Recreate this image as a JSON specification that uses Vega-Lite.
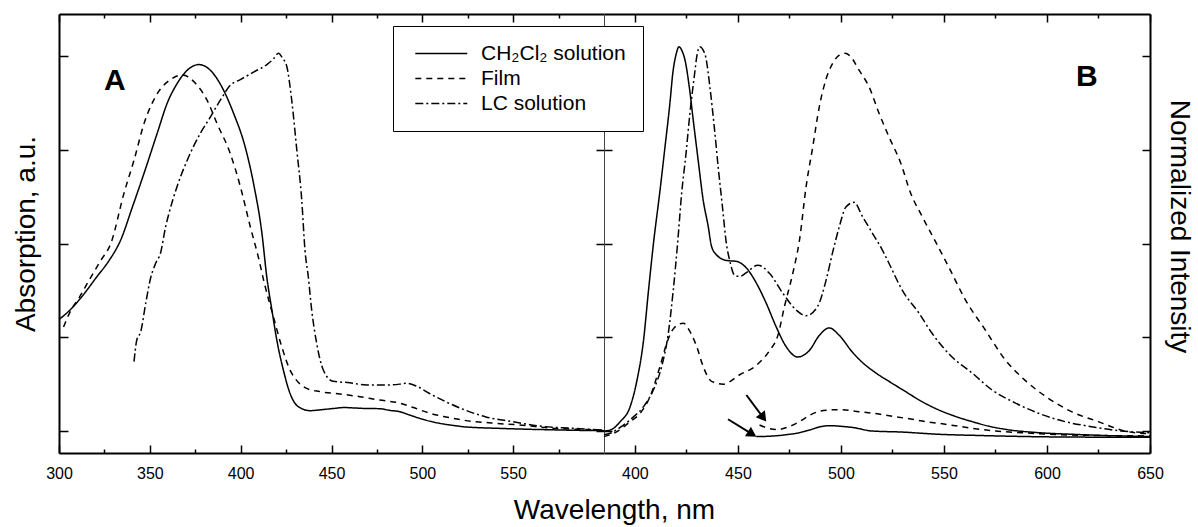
{
  "$schema": "https://vega.github.io/schema/vega-lite/v6.json",
  "padding": {"left": 12, "top": 13, "right": 8, "bottom": 0},
  "config": {
    "font": "Liberation Sans",
    "view": {"stroke": null},
    "axis": {"grid": false, "domainColor": "black", "domainWidth": 2, "tickColor": "black", "tickWidth": 1.5, "labelFont": "Liberation Sans", "labelFontSize": 16, "labelColor": "black", "labelFlush": false, "labelOverlap": false, "titleFont": "Liberation Sans", "titleFontSize": 28, "titleFontWeight": "normal", "titleColor": "black"}
  },
  "title": {"text": "Wavelength, nm", "orient": "bottom", "anchor": "middle", "fontSize": 28, "fontWeight": "normal", "font": "Liberation Sans", "color": "black", "offset": 12, "dx": 12},
  "datasets": {
    "absorb": [
      {"s":"CH₂Cl₂ solution","c":"a1","wl":300,"v":1.19},{"s":"CH₂Cl₂ solution","c":"a1","wl":306,"v":1.29},{"s":"CH₂Cl₂ solution","c":"a1","wl":312,"v":1.42},{"s":"CH₂Cl₂ solution","c":"a1","wl":321,"v":1.65},{"s":"CH₂Cl₂ solution","c":"a1","wl":327.6,"v":1.82},{"s":"CH₂Cl₂ solution","c":"a1","wl":334,"v":2.04},{"s":"CH₂Cl₂ solution","c":"a1","wl":340.4,"v":2.39},{"s":"CH₂Cl₂ solution","c":"a1","wl":346.8,"v":2.75},{"s":"CH₂Cl₂ solution","c":"a1","wl":354.1,"v":3.18},{"s":"CH₂Cl₂ solution","c":"a1","wl":359.6,"v":3.5},{"s":"CH₂Cl₂ solution","c":"a1","wl":365.1,"v":3.71},{"s":"CH₂Cl₂ solution","c":"a1","wl":370.6,"v":3.85},{"s":"CH₂Cl₂ solution","c":"a1","wl":376.9,"v":3.91},{"s":"CH₂Cl₂ solution","c":"a1","wl":383.3,"v":3.85},{"s":"CH₂Cl₂ solution","c":"a1","wl":389.7,"v":3.67},{"s":"CH₂Cl₂ solution","c":"a1","wl":396.1,"v":3.39},{"s":"CH₂Cl₂ solution","c":"a1","wl":402.5,"v":3.03},{"s":"CH₂Cl₂ solution","c":"a1","wl":407.1,"v":2.64},{"s":"CH₂Cl₂ solution","c":"a1","wl":411.7,"v":2.11},{"s":"CH₂Cl₂ solution","c":"a1","wl":414.4,"v":1.64},{"s":"CH₂Cl₂ solution","c":"a1","wl":417.2,"v":1.29},{"s":"CH₂Cl₂ solution","c":"a1","wl":419.9,"v":0.97},{"s":"CH₂Cl₂ solution","c":"a1","wl":423.5,"v":0.65},{"s":"CH₂Cl₂ solution","c":"a1","wl":427.2,"v":0.4},{"s":"CH₂Cl₂ solution","c":"a1","wl":431.7,"v":0.26},{"s":"CH₂Cl₂ solution","c":"a1","wl":438.2,"v":0.217},{"s":"CH₂Cl₂ solution","c":"a1","wl":445,"v":0.228},{"s":"CH₂Cl₂ solution","c":"a1","wl":451,"v":0.24},{"s":"CH₂Cl₂ solution","c":"a1","wl":457,"v":0.25},{"s":"CH₂Cl₂ solution","c":"a1","wl":463,"v":0.245},{"s":"CH₂Cl₂ solution","c":"a1","wl":469.2,"v":0.24},{"s":"CH₂Cl₂ solution","c":"a1","wl":476.5,"v":0.238},{"s":"CH₂Cl₂ solution","c":"a1","wl":482,"v":0.22},{"s":"CH₂Cl₂ solution","c":"a1","wl":487.5,"v":0.206},{"s":"CH₂Cl₂ solution","c":"a1","wl":493,"v":0.17},{"s":"CH₂Cl₂ solution","c":"a1","wl":498.5,"v":0.135},{"s":"CH₂Cl₂ solution","c":"a1","wl":504,"v":0.105},{"s":"CH₂Cl₂ solution","c":"a1","wl":509.4,"v":0.082},{"s":"CH₂Cl₂ solution","c":"a1","wl":516,"v":0.062},{"s":"CH₂Cl₂ solution","c":"a1","wl":522.2,"v":0.046},{"s":"CH₂Cl₂ solution","c":"a1","wl":530,"v":0.036},{"s":"CH₂Cl₂ solution","c":"a1","wl":540.5,"v":0.029},{"s":"CH₂Cl₂ solution","c":"a1","wl":550,"v":0.023},{"s":"CH₂Cl₂ solution","c":"a1","wl":558.8,"v":0.018},{"s":"CH₂Cl₂ solution","c":"a1","wl":568,"v":0.014},{"s":"CH₂Cl₂ solution","c":"a1","wl":577,"v":0.01},{"s":"CH₂Cl₂ solution","c":"a1","wl":588,"v":0.006},{"s":"CH₂Cl₂ solution","c":"a1","wl":600,"v":0.003},
      {"s":"Film","c":"a2","wl":302.5,"v":1.11},{"s":"Film","c":"a2","wl":306.6,"v":1.29},{"s":"Film","c":"a2","wl":311,"v":1.42},{"s":"Film","c":"a2","wl":316.6,"v":1.61},{"s":"Film","c":"a2","wl":323,"v":1.82},{"s":"Film","c":"a2","wl":328.5,"v":2.0},{"s":"Film","c":"a2","wl":335.8,"v":2.54},{"s":"Film","c":"a2","wl":341.3,"v":2.89},{"s":"Film","c":"a2","wl":346.8,"v":3.28},{"s":"Film","c":"a2","wl":354.1,"v":3.6},{"s":"Film","c":"a2","wl":361.4,"v":3.75},{"s":"Film","c":"a2","wl":367.8,"v":3.8},{"s":"Film","c":"a2","wl":375.1,"v":3.71},{"s":"Film","c":"a2","wl":381.5,"v":3.53},{"s":"Film","c":"a2","wl":387,"v":3.28},{"s":"Film","c":"a2","wl":394.3,"v":2.96},{"s":"Film","c":"a2","wl":399.8,"v":2.61},{"s":"Film","c":"a2","wl":405.3,"v":2.18},{"s":"Film","c":"a2","wl":409.8,"v":1.85},{"s":"Film","c":"a2","wl":413,"v":1.58},{"s":"Film","c":"a2","wl":418,"v":1.22},{"s":"Film","c":"a2","wl":422.6,"v":0.9},{"s":"Film","c":"a2","wl":427.2,"v":0.65},{"s":"Film","c":"a2","wl":430.8,"v":0.54},{"s":"Film","c":"a2","wl":436.3,"v":0.455},{"s":"Film","c":"a2","wl":443.6,"v":0.42},{"s":"Film","c":"a2","wl":454.6,"v":0.395},{"s":"Film","c":"a2","wl":465.6,"v":0.366},{"s":"Film","c":"a2","wl":476.5,"v":0.33},{"s":"Film","c":"a2","wl":487,"v":0.3},{"s":"Film","c":"a2","wl":495,"v":0.25},{"s":"Film","c":"a2","wl":504,"v":0.19},{"s":"Film","c":"a2","wl":513,"v":0.15},{"s":"Film","c":"a2","wl":522,"v":0.117},{"s":"Film","c":"a2","wl":538,"v":0.085},{"s":"Film","c":"a2","wl":555,"v":0.062},{"s":"Film","c":"a2","wl":571,"v":0.03},{"s":"Film","c":"a2","wl":585,"v":0.018},{"s":"Film","c":"a2","wl":599,"v":0.01},
      {"s":"LC solution","c":"a3","wl":341.3,"v":0.74},{"s":"LC solution","c":"a3","wl":342.8,"v":0.97},{"s":"LC solution","c":"a3","wl":345,"v":1.06},{"s":"LC solution","c":"a3","wl":347.7,"v":1.36},{"s":"LC solution","c":"a3","wl":350.4,"v":1.63},{"s":"LC solution","c":"a3","wl":353.2,"v":1.79},{"s":"LC solution","c":"a3","wl":355.9,"v":1.9},{"s":"LC solution","c":"a3","wl":358.7,"v":2.18},{"s":"LC solution","c":"a3","wl":360.5,"v":2.32},{"s":"LC solution","c":"a3","wl":365,"v":2.61},{"s":"LC solution","c":"a3","wl":370.6,"v":2.89},{"s":"LC solution","c":"a3","wl":377.9,"v":3.18},{"s":"LC solution","c":"a3","wl":383.3,"v":3.35},{"s":"LC solution","c":"a3","wl":388.8,"v":3.53},{"s":"LC solution","c":"a3","wl":394.3,"v":3.69},{"s":"LC solution","c":"a3","wl":399.8,"v":3.75},{"s":"LC solution","c":"a3","wl":407.1,"v":3.83},{"s":"LC solution","c":"a3","wl":414.4,"v":3.91},{"s":"LC solution","c":"a3","wl":418,"v":3.97},{"s":"LC solution","c":"a3","wl":420.8,"v":4.03},{"s":"LC solution","c":"a3","wl":423,"v":3.98},{"s":"LC solution","c":"a3","wl":425.4,"v":3.89},{"s":"LC solution","c":"a3","wl":428.1,"v":3.53},{"s":"LC solution","c":"a3","wl":430.9,"v":3.0},{"s":"LC solution","c":"a3","wl":433.6,"v":2.47},{"s":"LC solution","c":"a3","wl":435.4,"v":1.93},{"s":"LC solution","c":"a3","wl":437.2,"v":1.65},{"s":"LC solution","c":"a3","wl":439.1,"v":1.29},{"s":"LC solution","c":"a3","wl":441.8,"v":0.94},{"s":"LC solution","c":"a3","wl":445.5,"v":0.65},{"s":"LC solution","c":"a3","wl":450.9,"v":0.53},{"s":"LC solution","c":"a3","wl":460,"v":0.515},{"s":"LC solution","c":"a3","wl":469.2,"v":0.49},{"s":"LC solution","c":"a3","wl":480.2,"v":0.49},{"s":"LC solution","c":"a3","wl":487.5,"v":0.5},{"s":"LC solution","c":"a3","wl":491.2,"v":0.51},{"s":"LC solution","c":"a3","wl":496.7,"v":0.48},{"s":"LC solution","c":"a3","wl":504,"v":0.4},{"s":"LC solution","c":"a3","wl":513.1,"v":0.31},{"s":"LC solution","c":"a3","wl":524,"v":0.22},{"s":"LC solution","c":"a3","wl":535,"v":0.15},{"s":"LC solution","c":"a3","wl":549.6,"v":0.1},{"s":"LC solution","c":"a3","wl":564.2,"v":0.053},{"s":"LC solution","c":"a3","wl":582.5,"v":0.029},{"s":"LC solution","c":"a3","wl":599,"v":0.01}
    ],
    "emit": [
      {"s":"CH₂Cl₂ solution","c":"b1","wl":385,"v":0.0},{"s":"CH₂Cl₂ solution","c":"b1","wl":388,"v":0.01},{"s":"CH₂Cl₂ solution","c":"b1","wl":392.9,"v":0.1},{"s":"CH₂Cl₂ solution","c":"b1","wl":397.7,"v":0.26},{"s":"CH₂Cl₂ solution","c":"b1","wl":401,"v":0.54},{"s":"CH₂Cl₂ solution","c":"b1","wl":404.2,"v":0.97},{"s":"CH₂Cl₂ solution","c":"b1","wl":406.6,"v":1.5},{"s":"CH₂Cl₂ solution","c":"b1","wl":409,"v":2.0},{"s":"CH₂Cl₂ solution","c":"b1","wl":412.2,"v":2.57},{"s":"CH₂Cl₂ solution","c":"b1","wl":414.6,"v":3.03},{"s":"CH₂Cl₂ solution","c":"b1","wl":417,"v":3.5},{"s":"CH₂Cl₂ solution","c":"b1","wl":418.4,"v":3.82},{"s":"CH₂Cl₂ solution","c":"b1","wl":420,"v":4.02},{"s":"CH₂Cl₂ solution","c":"b1","wl":421.4,"v":4.1},{"s":"CH₂Cl₂ solution","c":"b1","wl":423,"v":4.05},{"s":"CH₂Cl₂ solution","c":"b1","wl":424.3,"v":3.96},{"s":"CH₂Cl₂ solution","c":"b1","wl":426.4,"v":3.67},{"s":"CH₂Cl₂ solution","c":"b1","wl":428.3,"v":3.32},{"s":"CH₂Cl₂ solution","c":"b1","wl":430.7,"v":2.89},{"s":"CH₂Cl₂ solution","c":"b1","wl":433.1,"v":2.47},{"s":"CH₂Cl₂ solution","c":"b1","wl":435.6,"v":2.18},{"s":"CH₂Cl₂ solution","c":"b1","wl":437.2,"v":1.97},{"s":"CH₂Cl₂ solution","c":"b1","wl":439.6,"v":1.88},{"s":"CH₂Cl₂ solution","c":"b1","wl":444.4,"v":1.82},{"s":"CH₂Cl₂ solution","c":"b1","wl":449.3,"v":1.81},{"s":"CH₂Cl₂ solution","c":"b1","wl":454.1,"v":1.74},{"s":"CH₂Cl₂ solution","c":"b1","wl":458.9,"v":1.58},{"s":"CH₂Cl₂ solution","c":"b1","wl":463.8,"v":1.36},{"s":"CH₂Cl₂ solution","c":"b1","wl":468.6,"v":1.11},{"s":"CH₂Cl₂ solution","c":"b1","wl":473.4,"v":0.9},{"s":"CH₂Cl₂ solution","c":"b1","wl":479,"v":0.79},{"s":"CH₂Cl₂ solution","c":"b1","wl":484.7,"v":0.86},{"s":"CH₂Cl₂ solution","c":"b1","wl":489.5,"v":1.02},{"s":"CH₂Cl₂ solution","c":"b1","wl":494.3,"v":1.1},{"s":"CH₂Cl₂ solution","c":"b1","wl":499.2,"v":1.02},{"s":"CH₂Cl₂ solution","c":"b1","wl":505.6,"v":0.84},{"s":"CH₂Cl₂ solution","c":"b1","wl":510,"v":0.74},{"s":"CH₂Cl₂ solution","c":"b1","wl":516.9,"v":0.62},{"s":"CH₂Cl₂ solution","c":"b1","wl":524,"v":0.52},{"s":"CH₂Cl₂ solution","c":"b1","wl":531.4,"v":0.42},{"s":"CH₂Cl₂ solution","c":"b1","wl":538,"v":0.33},{"s":"CH₂Cl₂ solution","c":"b1","wl":545.9,"v":0.24},{"s":"CH₂Cl₂ solution","c":"b1","wl":555,"v":0.16},{"s":"CH₂Cl₂ solution","c":"b1","wl":563.6,"v":0.1},{"s":"CH₂Cl₂ solution","c":"b1","wl":572,"v":0.05},{"s":"CH₂Cl₂ solution","c":"b1","wl":579.7,"v":0.018},{"s":"CH₂Cl₂ solution","c":"b1","wl":595.8,"v":-0.018},{"s":"CH₂Cl₂ solution","c":"b1","wl":611.9,"v":-0.035},{"s":"CH₂Cl₂ solution","c":"b1","wl":630,"v":-0.05},{"s":"CH₂Cl₂ solution","c":"b1","wl":650,"v":-0.06},
      {"s":"Film","c":"b2","wl":385,"v":-0.06},{"s":"Film","c":"b2","wl":391.3,"v":-0.007},{"s":"Film","c":"b2","wl":397.7,"v":0.1},{"s":"Film","c":"b2","wl":402.6,"v":0.19},{"s":"Film","c":"b2","wl":407.4,"v":0.37},{"s":"Film","c":"b2","wl":412.2,"v":0.69},{"s":"Film","c":"b2","wl":415.5,"v":0.94},{"s":"Film","c":"b2","wl":419,"v":1.1},{"s":"Film","c":"b2","wl":423.5,"v":1.15},{"s":"Film","c":"b2","wl":427,"v":1.05},{"s":"Film","c":"b2","wl":430,"v":0.9},{"s":"Film","c":"b2","wl":433.1,"v":0.69},{"s":"Film","c":"b2","wl":437.2,"v":0.53},{"s":"Film","c":"b2","wl":442.8,"v":0.5},{"s":"Film","c":"b2","wl":450.9,"v":0.6},{"s":"Film","c":"b2","wl":458.9,"v":0.7},{"s":"Film","c":"b2","wl":465.4,"v":0.86},{"s":"Film","c":"b2","wl":469.4,"v":1.02},{"s":"Film","c":"b2","wl":472.6,"v":1.33},{"s":"Film","c":"b2","wl":476.6,"v":1.68},{"s":"Film","c":"b2","wl":479.9,"v":2.04},{"s":"Film","c":"b2","wl":483.1,"v":2.61},{"s":"Film","c":"b2","wl":486.3,"v":3.03},{"s":"Film","c":"b2","wl":489.5,"v":3.46},{"s":"Film","c":"b2","wl":492.7,"v":3.75},{"s":"Film","c":"b2","wl":495.9,"v":3.92},{"s":"Film","c":"b2","wl":499.2,"v":4.01},{"s":"Film","c":"b2","wl":502,"v":4.03},{"s":"Film","c":"b2","wl":504.5,"v":4.0},{"s":"Film","c":"b2","wl":508.8,"v":3.85},{"s":"Film","c":"b2","wl":513.7,"v":3.67},{"s":"Film","c":"b2","wl":518.5,"v":3.39},{"s":"Film","c":"b2","wl":523.3,"v":3.14},{"s":"Film","c":"b2","wl":529,"v":2.86},{"s":"Film","c":"b2","wl":533.8,"v":2.54},{"s":"Film","c":"b2","wl":539.4,"v":2.29},{"s":"Film","c":"b2","wl":545.9,"v":2.02},{"s":"Film","c":"b2","wl":552.3,"v":1.75},{"s":"Film","c":"b2","wl":560.4,"v":1.4},{"s":"Film","c":"b2","wl":570,"v":1.08},{"s":"Film","c":"b2","wl":579.7,"v":0.76},{"s":"Film","c":"b2","wl":589.4,"v":0.54},{"s":"Film","c":"b2","wl":600.6,"v":0.35},{"s":"Film","c":"b2","wl":611.9,"v":0.206},{"s":"Film","c":"b2","wl":624.9,"v":0.1},{"s":"Film","c":"b2","wl":637.7,"v":0.0},{"s":"Film","c":"b2","wl":650,"v":-0.03},
      {"s":"LC solution","c":"b3","wl":385,"v":-0.04},{"s":"LC solution","c":"b3","wl":388,"v":-0.025},{"s":"LC solution","c":"b3","wl":393,"v":0.04},{"s":"LC solution","c":"b3","wl":399.3,"v":0.15},{"s":"LC solution","c":"b3","wl":404.2,"v":0.26},{"s":"LC solution","c":"b3","wl":409,"v":0.44},{"s":"LC solution","c":"b3","wl":413,"v":0.69},{"s":"LC solution","c":"b3","wl":416.2,"v":1.04},{"s":"LC solution","c":"b3","wl":418.6,"v":1.5},{"s":"LC solution","c":"b3","wl":420.6,"v":1.97},{"s":"LC solution","c":"b3","wl":422.7,"v":2.54},{"s":"LC solution","c":"b3","wl":424.8,"v":2.96},{"s":"LC solution","c":"b3","wl":426.7,"v":3.39},{"s":"LC solution","c":"b3","wl":428.8,"v":3.78},{"s":"LC solution","c":"b3","wl":430.3,"v":4.03},{"s":"LC solution","c":"b3","wl":431.5,"v":4.1},{"s":"LC solution","c":"b3","wl":433,"v":4.07},{"s":"LC solution","c":"b3","wl":434.4,"v":3.99},{"s":"LC solution","c":"b3","wl":436.4,"v":3.67},{"s":"LC solution","c":"b3","wl":438.5,"v":3.25},{"s":"LC solution","c":"b3","wl":440.4,"v":2.82},{"s":"LC solution","c":"b3","wl":442.5,"v":2.39},{"s":"LC solution","c":"b3","wl":444.4,"v":2.0},{"s":"LC solution","c":"b3","wl":446,"v":1.82},{"s":"LC solution","c":"b3","wl":448.5,"v":1.66},{"s":"LC solution","c":"b3","wl":451,"v":1.65},{"s":"LC solution","c":"b3","wl":454.1,"v":1.69},{"s":"LC solution","c":"b3","wl":459.7,"v":1.77},{"s":"LC solution","c":"b3","wl":465.4,"v":1.68},{"s":"LC solution","c":"b3","wl":471.8,"v":1.47},{"s":"LC solution","c":"b3","wl":478.3,"v":1.29},{"s":"LC solution","c":"b3","wl":483.1,"v":1.23},{"s":"LC solution","c":"b3","wl":488.7,"v":1.33},{"s":"LC solution","c":"b3","wl":492.8,"v":1.61},{"s":"LC solution","c":"b3","wl":495.9,"v":1.9},{"s":"LC solution","c":"b3","wl":499.2,"v":2.18},{"s":"LC solution","c":"b3","wl":502.4,"v":2.39},{"s":"LC solution","c":"b3","wl":506.4,"v":2.44},{"s":"LC solution","c":"b3","wl":510.4,"v":2.29},{"s":"LC solution","c":"b3","wl":515.3,"v":2.11},{"s":"LC solution","c":"b3","wl":520.1,"v":1.93},{"s":"LC solution","c":"b3","wl":523.3,"v":1.79},{"s":"LC solution","c":"b3","wl":529.8,"v":1.5},{"s":"LC solution","c":"b3","wl":537.8,"v":1.26},{"s":"LC solution","c":"b3","wl":544.3,"v":1.04},{"s":"LC solution","c":"b3","wl":553.9,"v":0.79},{"s":"LC solution","c":"b3","wl":563.6,"v":0.62},{"s":"LC solution","c":"b3","wl":573.2,"v":0.44},{"s":"LC solution","c":"b3","wl":584.5,"v":0.3},{"s":"LC solution","c":"b3","wl":595.8,"v":0.19},{"s":"LC solution","c":"b3","wl":608.7,"v":0.1},{"s":"LC solution","c":"b3","wl":621.6,"v":0.046},{"s":"LC solution","c":"b3","wl":636,"v":0.0},{"s":"LC solution","c":"b3","wl":650,"v":-0.018},
      {"s":"CH₂Cl₂ solution","c":"b4","wl":458.9,"v":-0.06},{"s":"CH₂Cl₂ solution","c":"b4","wl":466,"v":-0.055},{"s":"CH₂Cl₂ solution","c":"b4","wl":473.4,"v":-0.04},{"s":"CH₂Cl₂ solution","c":"b4","wl":478.3,"v":-0.025},{"s":"CH₂Cl₂ solution","c":"b4","wl":484.7,"v":0.01},{"s":"CH₂Cl₂ solution","c":"b4","wl":490,"v":0.045},{"s":"CH₂Cl₂ solution","c":"b4","wl":495,"v":0.057},{"s":"CH₂Cl₂ solution","c":"b4","wl":500,"v":0.05},{"s":"CH₂Cl₂ solution","c":"b4","wl":505.6,"v":0.038},{"s":"CH₂Cl₂ solution","c":"b4","wl":515,"v":0.0},{"s":"CH₂Cl₂ solution","c":"b4","wl":530,"v":-0.012},{"s":"CH₂Cl₂ solution","c":"b4","wl":547,"v":-0.035},{"s":"CH₂Cl₂ solution","c":"b4","wl":567,"v":-0.048},{"s":"CH₂Cl₂ solution","c":"b4","wl":580,"v":-0.055},{"s":"CH₂Cl₂ solution","c":"b4","wl":612,"v":-0.065},{"s":"CH₂Cl₂ solution","c":"b4","wl":650,"v":-0.067},
      {"s":"Film","c":"b5","wl":460.5,"v":0.064},{"s":"Film","c":"b5","wl":464.5,"v":0.03},{"s":"Film","c":"b5","wl":469,"v":0.015},{"s":"Film","c":"b5","wl":474,"v":0.04},{"s":"Film","c":"b5","wl":479.9,"v":0.1},{"s":"Film","c":"b5","wl":485,"v":0.17},{"s":"Film","c":"b5","wl":489.5,"v":0.21},{"s":"Film","c":"b5","wl":495,"v":0.225},{"s":"Film","c":"b5","wl":500,"v":0.228},{"s":"Film","c":"b5","wl":508.8,"v":0.206},{"s":"Film","c":"b5","wl":518.5,"v":0.18},{"s":"Film","c":"b5","wl":527,"v":0.15},{"s":"Film","c":"b5","wl":534.6,"v":0.125},{"s":"Film","c":"b5","wl":541,"v":0.1},{"s":"Film","c":"b5","wl":550.7,"v":0.072},{"s":"Film","c":"b5","wl":563.6,"v":0.029},{"s":"Film","c":"b5","wl":575,"v":0.0},{"s":"Film","c":"b5","wl":587.7,"v":-0.018},{"s":"Film","c":"b5","wl":611.9,"v":-0.043},{"s":"Film","c":"b5","wl":650,"v":-0.053}
    ],
    "arrows": [
      {"id": 1, "wl": 445.2, "v": 0.125, "wl2": 456.9, "v2": -0.033},
      {"id": 2, "wl": 454.1, "v": 0.384, "wl2": 462.3, "v2": 0.142}
    ]
  },
  "spacing": 0,
  "bounds": "flush",
  "hconcat": [
    {
      "width": 545,
      "height": 439,
      "resolve": {"axis": {"x": "independent", "y": "independent"}},
      "layer": [
        {
          "data": {"name": "absorb"},
          "mark": {"type": "line", "interpolate": "monotone", "strokeWidth": 1.5, "color": "black"},
          "encoding": {
            "x": {"field": "wl", "type": "quantitative", "scale": {"domain": [300, 600], "nice": false, "zero": false},
              "axis": {"orient": "bottom", "title": null, "values": [300,325,350,375,400,425,450,475,500,525,550,575], "tickSize": {"condition": {"test": "datum.value % 50 === 0", "value": -8}, "value": -4}, "labelExpr": "datum.value % 50 === 0 ? datum.label : ''", "labelPadding": 20}},
            "y": {"field": "v", "type": "quantitative", "scale": {"domain": [-0.235, 4.45], "nice": false, "zero": false},
              "axis": {"orient": "left", "values": [0,1,2,3,4], "tickSize": -9, "labels": false, "title": "Absorption, a.u.", "titlePadding": 18}},
            "strokeDash": {"field": "s", "type": "nominal",
              "scale": {"domain": ["CH₂Cl₂ solution", "Film", "LC solution"], "range": [[1, 0], [6, 5], [8, 3, 2, 3]]},
              "legend": {"orient": "none", "legendX": 334, "legendY": 12, "title": null, "symbolType": "M-1,0H9", "symbolSize": 108, "symbolStrokeWidth": 1.5, "symbolStrokeColor": "black", "labelFontSize": 21, "labelFont": "Liberation Sans", "labelColor": "black", "labelOffset": 50, "rowPadding": 3, "padding": 17, "strokeColor": "black", "fillColor": "white", "labelLimit": 400}},
            "detail": {"field": "c", "type": "nominal"}
          }
        },
        {
          "data": {"values": [{"t": "A", "wl": 330.7, "v": 3.73}]},
          "mark": {"type": "text", "fontSize": 30, "fontWeight": "bold", "font": "Liberation Sans", "align": "center", "baseline": "middle", "color": "black"},
          "encoding": {
            "x": {"field": "wl", "type": "quantitative", "scale": {"domain": [300, 600], "nice": false, "zero": false},
              "axis": {"orient": "top", "title": null, "labels": false, "values": [300,325,350,375,400,425,450,475,500,525,550,575], "tickSize": {"condition": {"test": "datum.value % 50 === 0", "value": -8}, "value": -4}}},
            "y": {"field": "v", "type": "quantitative", "scale": {"domain": [-0.235, 4.45], "nice": false, "zero": false},
              "axis": {"orient": "right", "values": [0,1,2,3,4], "tickSize": -8, "labels": false, "title": null, "domainWidth": 1, "domainColor": "#444"}},
            "text": {"field": "t"}
          }
        }
      ]
    },
    {
      "width": 546,
      "height": 439,
      "resolve": {"axis": {"x": "independent", "y": "independent"}},
      "layer": [
        {
          "data": {"name": "emit"},
          "mark": {"type": "line", "interpolate": "monotone", "strokeWidth": 1.5, "color": "black"},
          "encoding": {
            "x": {"field": "wl", "type": "quantitative", "scale": {"domain": [385, 650], "nice": false, "zero": false},
              "axis": {"orient": "bottom", "title": null, "values": [400,425,450,475,500,525,550,575,600,625,650], "tickSize": {"condition": {"test": "datum.value % 50 === 0", "value": -8}, "value": -4}, "labelExpr": "datum.value % 50 === 0 ? datum.label : ''", "labelPadding": 20}},
            "y": {"field": "v", "type": "quantitative", "scale": {"domain": [-0.235, 4.45], "nice": false, "zero": false},
              "axis": {"orient": "left", "values": [0,1,2,3,4], "tickSize": -8, "labels": false, "title": null, "domainWidth": 1, "domainColor": "#444"}},
            "strokeDash": {"field": "s", "type": "nominal"},
            "detail": {"field": "c", "type": "nominal"}
          }
        },
        {
          "data": {"values": [{"t": "B", "wl": 619.3, "v": 3.78}]},
          "mark": {"type": "text", "fontSize": 30, "fontWeight": "bold", "font": "Liberation Sans", "align": "center", "baseline": "middle", "color": "black"},
          "encoding": {
            "x": {"field": "wl", "type": "quantitative", "scale": {"domain": [385, 650], "nice": false, "zero": false},
              "axis": {"orient": "top", "title": null, "labels": false, "values": [400,425,450,475,500,525,550,575,600,625,650], "tickSize": {"condition": {"test": "datum.value % 50 === 0", "value": -8}, "value": -4}}},
            "y": {"field": "v", "type": "quantitative", "scale": {"domain": [-0.235, 4.45], "nice": false, "zero": false},
              "axis": {"orient": "right", "values": [0,1,2,3,4], "tickSize": -8, "labels": false, "title": "Normalized Intensity", "titlePadding": 14, "titleY": 212}},
            "text": {"field": "t"}
          }
        },
        {
          "data": {"name": "arrows"},
          "mark": {"type": "rule", "strokeWidth": 2, "color": "black"},
          "encoding": {
            "x": {"field": "wl", "type": "quantitative", "axis": null},
            "y": {"field": "v", "type": "quantitative", "axis": null},
            "x2": {"field": "wl2"},
            "y2": {"field": "v2"}
          }
        },
        {
          "data": {"name": "arrows"},
          "transform": [{"filter": "datum.id === 1"}],
          "mark": {"type": "point", "shape": "triangle-right", "angle": 31.5, "size": 130, "filled": true, "color": "black", "opacity": 1},
          "encoding": {
            "x": {"field": "wl2", "type": "quantitative", "axis": null},
            "y": {"field": "v2", "type": "quantitative", "axis": null}
          }
        },
        {
          "data": {"name": "arrows"},
          "transform": [{"filter": "datum.id === 2"}],
          "mark": {"type": "point", "shape": "triangle-right", "angle": 53, "size": 130, "filled": true, "color": "black", "opacity": 1},
          "encoding": {
            "x": {"field": "wl2", "type": "quantitative", "axis": null},
            "y": {"field": "v2", "type": "quantitative", "axis": null}
          }
        }
      ]
    }
  ]
}
